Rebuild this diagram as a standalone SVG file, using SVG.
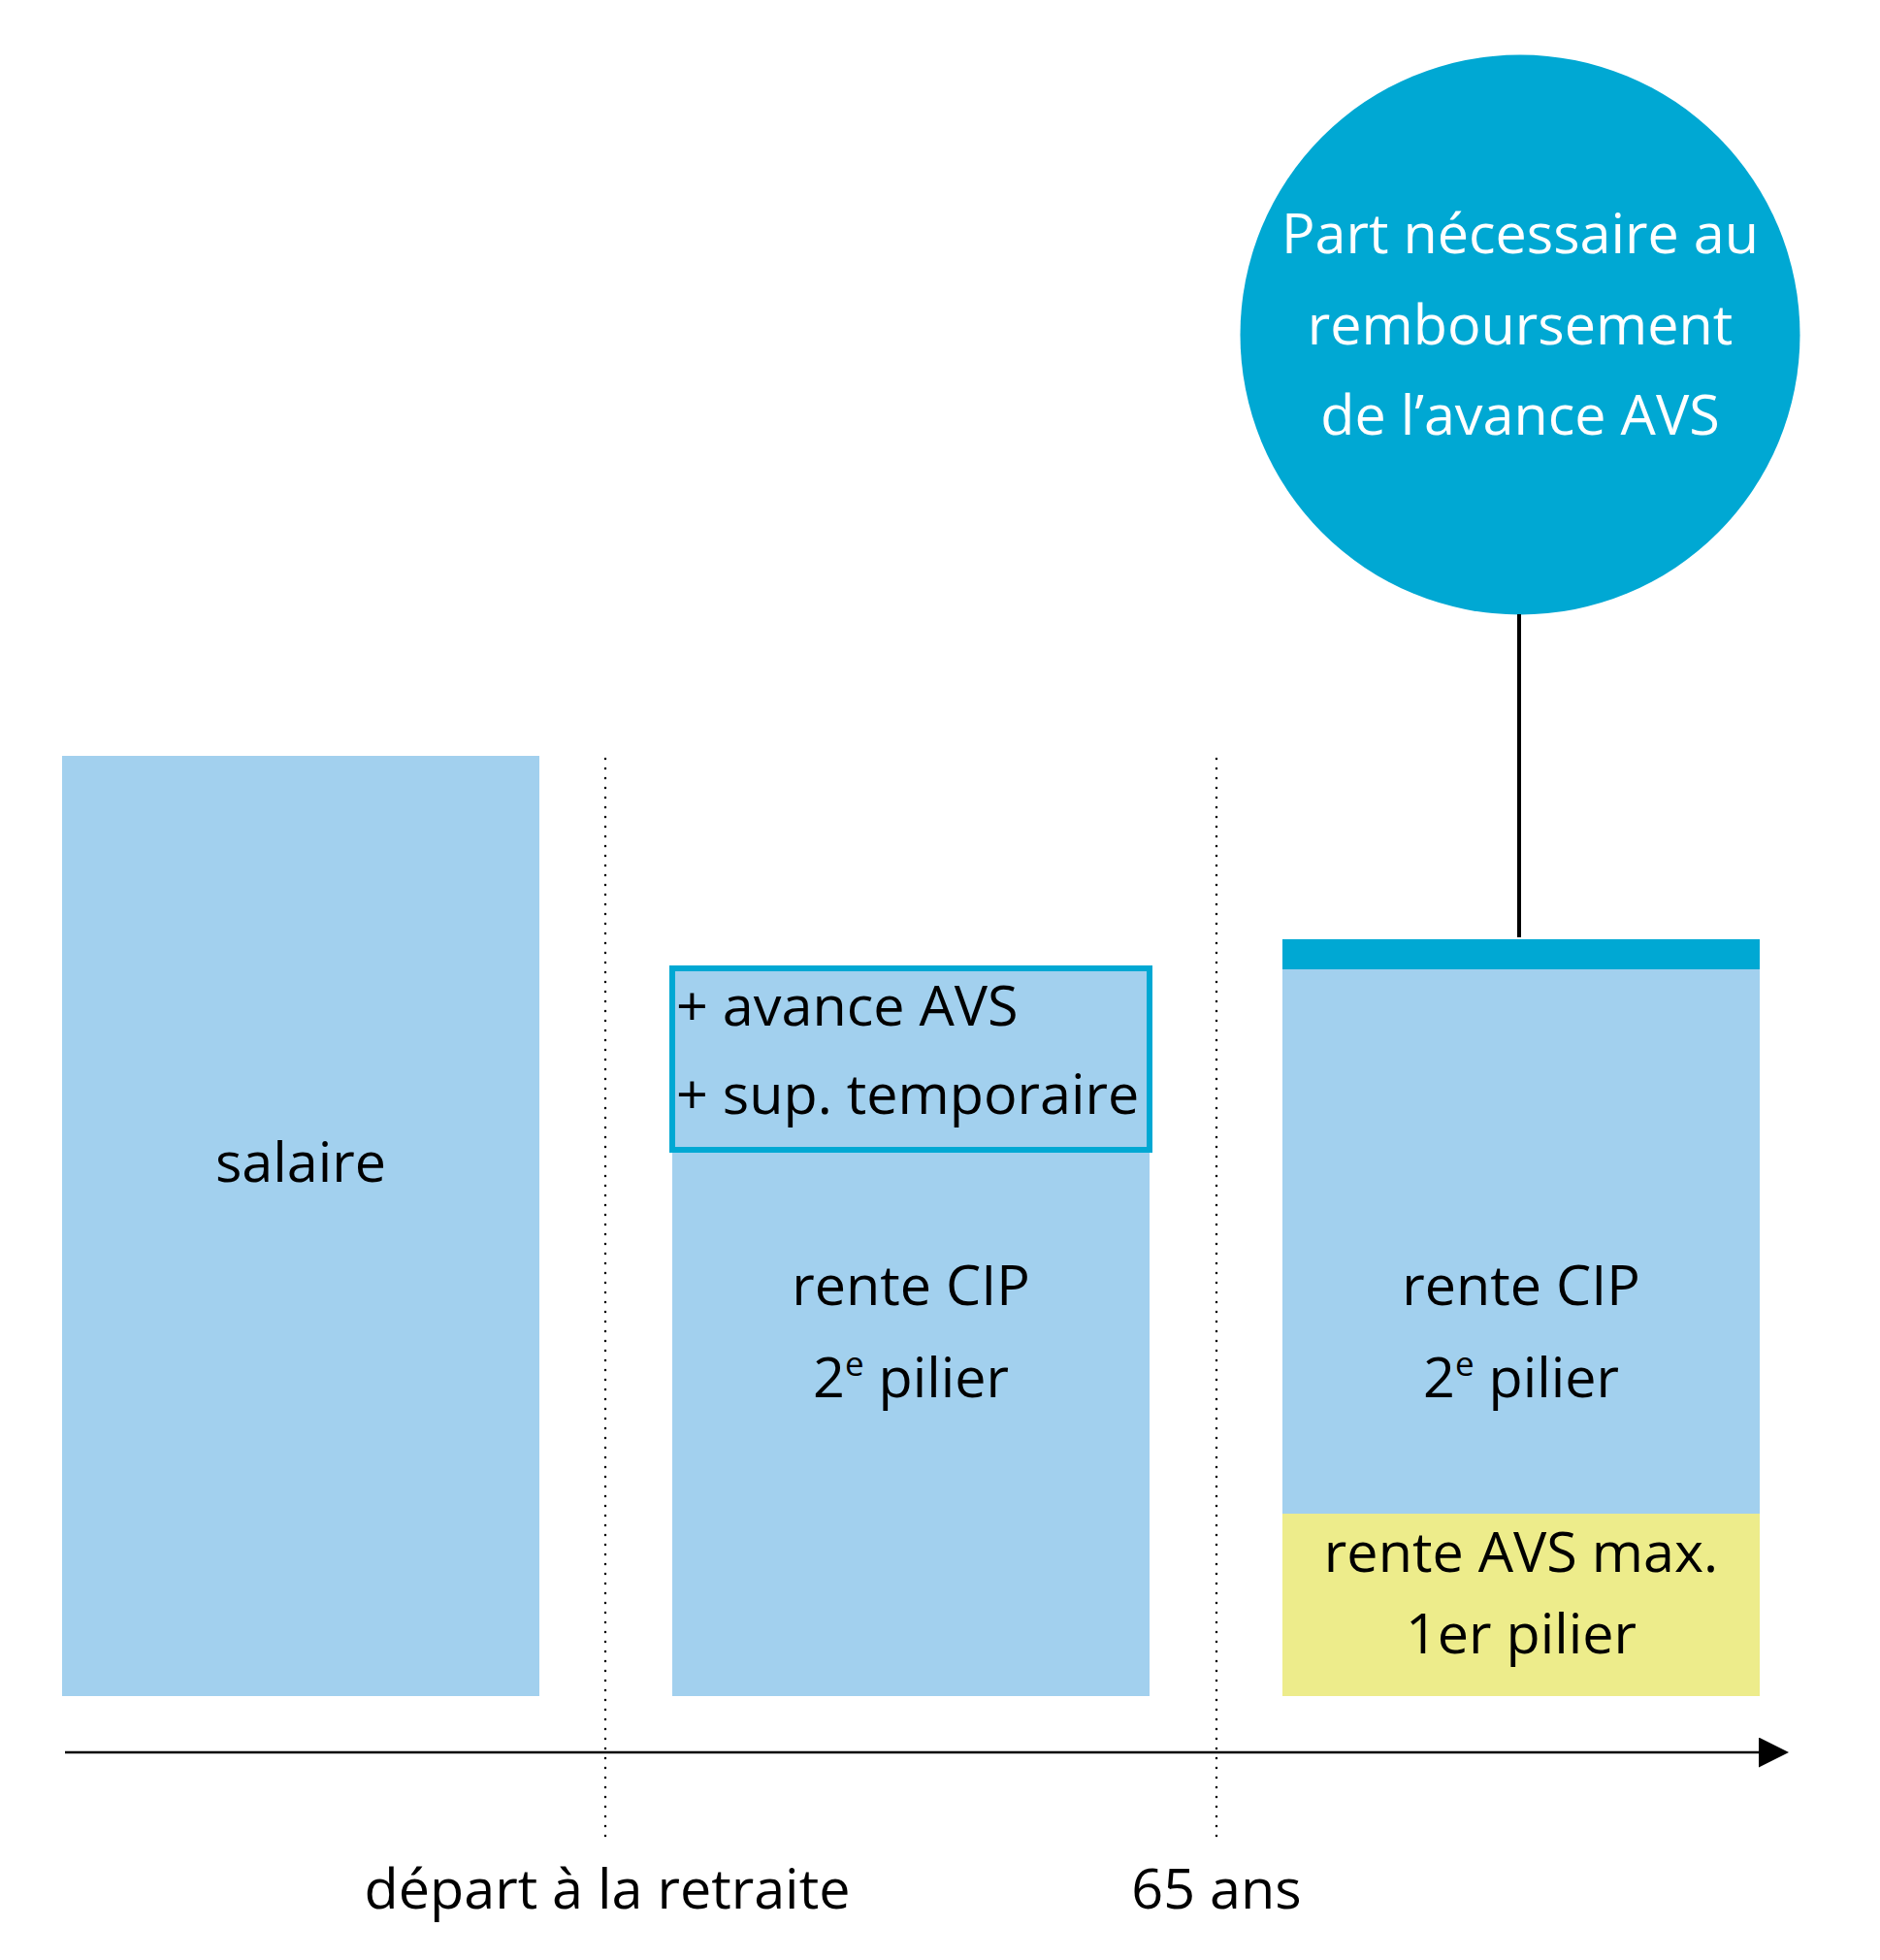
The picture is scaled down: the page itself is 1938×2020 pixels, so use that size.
<svg xmlns="http://www.w3.org/2000/svg" width="1938" height="2020" viewBox="0 0 1938 2020">
<defs>
<style>
.t{font-family:"Open Sans","Noto Sans","DejaVu Sans",sans-serif;font-size:57.5px;fill:#000;}
.c{text-anchor:middle;}
.w{fill:#fff;}
.lb{fill:#a2d0ee;}
.cy{fill:#00a8d3;}
.ye{fill:#edec8b;}
.dot{stroke:#000;stroke-width:2.5;stroke-linecap:round;stroke-dasharray:0 10;fill:none;}
.sup{font-size:35px;}
</style>
<marker id="arr" viewBox="0 0 31 31" refX="0" refY="15.5" markerWidth="31" markerHeight="31" markerUnits="userSpaceOnUse" orient="auto">
<path d="M0,0 L31,15.5 L0,31 Z" fill="#000"/>
</marker>
</defs>
<rect width="1938" height="2020" fill="#fff"/>

<g id="guides">
<line class="dot" x1="624" y1="782" x2="624" y2="1898"/>
<line class="dot" x1="1254" y1="782" x2="1254" y2="1898"/>
</g>

<g id="salaire">
<rect class="lb" x="64" y="779" width="492" height="969"/>
<text class="t c" x="310" y="1218">salaire</text>
</g>

<g id="rente-cip-1">
<rect class="lb" x="693" y="998" width="492" height="750"/>
<text class="t c" x="939" y="1345">rente CIP</text>
<text class="t c" x="939" y="1440">2<tspan class="sup" dy="-22">e</tspan><tspan dy="22"> pilier</tspan></text>
</g>

<g id="avance-avs">
<rect x="693" y="998" width="492" height="187" fill="none" stroke="#00a8d3" stroke-width="6"/>
<text class="t" x="697" y="1057">+ avance AVS</text>
<text class="t" x="697" y="1148">+ sup. temporaire</text>
</g>

<g id="rente-cip-2">
<rect class="cy" x="1322" y="968" width="492" height="31"/>
<rect class="lb" x="1322" y="999" width="492" height="561"/>
<text class="t c" x="1568" y="1345">rente CIP</text>
<text class="t c" x="1568" y="1440">2<tspan class="sup" dy="-22">e</tspan><tspan dy="22"> pilier</tspan></text>
</g>

<g id="rente-avs">
<rect class="ye" x="1322" y="1560" width="492" height="188"/>
<text class="t c" x="1568" y="1620">rente AVS max.</text>
<text class="t c" x="1568" y="1704">1er pilier</text>
</g>

<g id="part-remboursement">
<circle class="cy" cx="1567" cy="345" r="288.5"/>
<text class="t c w" x="1567" y="261">Part nécessaire au</text>
<text class="t c w" x="1567" y="355">remboursement</text>
<text class="t c w" x="1567" y="448">de l’avance AVS</text>
</g>

<g id="connectors">
<line x1="1566" y1="633" x2="1566" y2="966" stroke="#000" stroke-width="4"/>
<line x1="67" y1="1806" x2="1813" y2="1806" stroke="#000" stroke-width="2.5" marker-end="url(#arr)"/>
</g>

<g id="axis-labels">
<text class="t c" x="626" y="1967">départ à la retraite</text>
<text class="t c" x="1254" y="1967">65 ans</text>
</g>
</svg>
